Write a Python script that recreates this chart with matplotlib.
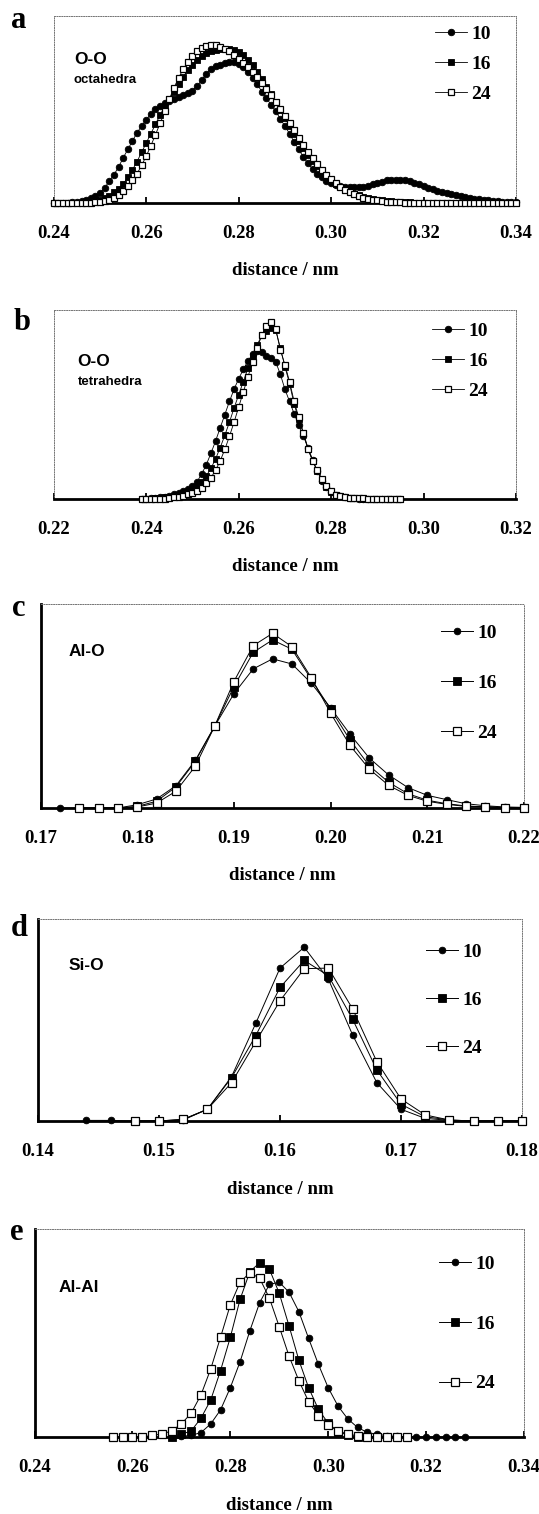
import numpy as np
import matplotlib
matplotlib.use("Agg")
import matplotlib.pyplot as plt
from matplotlib.font_manager import FontProperties

W, H = 539, 1514
nan = np.nan
series_labels = ["10", "16", "24"]

# ---------------- panel a : O-O octahedra ----------------
a_x = np.round(np.arange(0.240, 0.3405, 0.001), 3)
a_10 = [0, 0, 0, 0, 0.3, 0.5, 0.8, 1.5, 2.3, 3.5,
        5.0, 8.0, 11.5, 15.0, 19.0, 24.0, 28.5, 33.0, 37.5, 41.0,
        44.5, 47.5, 50.0, 52.0, 53.5, 54.5, 55.5, 56.5, 57.5, 58.5,
        60.0, 62.5, 65.5, 69.0, 71.5, 73.0, 74.0, 75.0, 75.3, 75.4,
        74.5, 72.5, 70.0, 67.0, 63.5, 59.5, 56.0, 52.5, 49.0, 45.0,
        41.0, 37.0, 32.5, 28.5, 24.5, 21.0, 18.0, 15.5, 13.5, 11.8,
        10.5, 9.7, 9.0, 8.6, 8.4, 8.3, 8.3, 8.5, 9.0, 9.8,
        10.6, 11.3, 11.9, 12.2, 12.3, 12.2, 11.9, 11.4, 10.7, 9.9,
        9.0, 8.1, 7.2, 6.4, 5.7, 5.0, 4.4, 3.9, 3.4, 2.9,
        2.5, 2.1, 1.8, 1.5, 1.2, 1.0, 0.8, 0.6, 0.4, 0.3, 0.2]
a_16 = [0, 0, 0, 0, 0, 0, 0, 0.2, 0.5, 0.9,
        1.5, 2.5, 3.8, 5.5, 7.5, 10.0, 13.5, 17.5, 22.0, 27.0,
        32.0, 37.0, 42.0, 47.0, 51.5, 55.5, 59.5, 63.5, 67.5, 71.0,
        74.0, 76.5, 78.5, 80.0, 81.0, 81.7, 82.2, 82.4, 82.3, 81.8,
        80.8, 79.0, 76.6, 73.6, 70.0, 66.2, 62.0, 58.0, 54.0, 49.5,
        45.2, 41.0, 37.0, 33.0, 29.2, 25.7, 22.5, 19.5, 16.8, 14.3,
        12.0, 10.0, 8.4, 7.0, 5.8, 4.8, 3.9, 3.2, 2.6, 2.1,
        1.7, 1.3, 1.0, 0.8, 0.6, 0.4, 0.3, 0.2, 0.1, 0.1,
        0, 0, 0, 0, 0, 0, 0, 0, 0, 0,
        0, 0, 0, 0, 0, 0, 0, 0, 0, 0, 0]
a_24 = [0, 0, 0, 0, 0, 0, 0, 0, 0, 0.3,
        0.6, 1.0, 1.6, 2.6, 4.0, 6.0, 8.8, 12.0, 15.5, 20.0,
        25.0, 30.5, 36.5, 42.5, 49.0, 55.5, 61.5, 67.0, 71.5, 75.5,
        78.5, 81.0, 82.8, 83.9, 84.4, 84.3, 83.6, 82.5, 81.0, 79.2,
        77.2, 75.0, 72.6, 70.0, 67.2, 64.2, 61.0, 57.6, 54.0, 50.3,
        46.5, 42.6, 38.7, 34.8, 31.0, 27.3, 23.8, 20.6, 17.7, 15.0,
        12.6, 10.5, 8.6, 7.0, 5.6, 4.5, 3.5, 2.7, 2.1, 1.6,
        1.2, 0.9, 0.6, 0.4, 0.3, 0.2, 0.1, 0, 0, 0,
        0, 0, 0, 0, 0, 0, 0, 0, 0, 0,
        0, 0, 0, 0, 0, 0, 0, 0, 0, 0, 0]

# ---------------- panel b : O-O tetrahedra ----------------
b_x = np.round(np.arange(0.239, 0.2955, 0.001), 3)
b_10 = [0,
        0, 0.2, 0.4, 0.7, 1.0, 1.5, 2.2, 3.0, 4.0, 5.0,
        6.5, 9.0, 13.0, 18.0, 24.0, 30.5, 37.5, 44.5, 51.5, 58.0,
        63.5, 68.5, 73.0, 76.5, 78.5, 77.5, 75.5, 74.5, 72.5, 66.0,
        58.0, 51.5, 45.0, 39.0, 33.0, 27.0, 20.5, 14.5, 9.5, 6.0,
        3.5, 2.0, 1.1, 0.6, 0.3, 0.1, 0, 0, 0, 0,
        0, 0, 0, 0, 0, 0]
b_16 = [0,
        0, 0, 0.2, 0.4, 0.6, 0.9, 1.3, 1.8, 2.5, 3.4,
        4.6, 6.3, 8.8, 12.0, 16.0, 21.0, 27.0, 33.5, 40.5, 48.0,
        55.0, 62.0, 69.0, 75.5, 81.5, 86.5, 89.0, 90.5, 89.5, 80.0,
        70.0, 61.0, 50.0, 42.0, 34.5, 26.0, 20.0, 14.5, 10.0, 6.3,
        3.6, 2.0, 1.1, 0.6, 0.3, 0.2, 0.1, 0, 0, 0,
        0, 0, 0, 0, 0, 0]
b_24 = [0,
        0, 0, 0, 0, 0, 0.3, 0.6, 1.0, 1.5, 2.2,
        3.0, 4.2, 5.8, 8.0, 11.0, 15.0, 20.0, 26.0, 33.0, 40.5,
        48.5, 56.5, 64.5, 72.5, 80.0, 86.5, 91.5, 93.8, 90.0, 79.0,
        71.0, 62.0, 51.5, 43.0, 35.0, 26.5, 20.0, 15.0, 10.6, 6.5,
        3.8, 2.0, 1.2, 0.7, 0.4, 0.3, 0.2, 0.1, 0, 0,
        0, 0, 0, 0, 0, 0]

# ---------------- panel c : Al-O ----------------
c_x = np.round(np.arange(0.172, 0.2205, 0.002), 3)
c_10 = [0, 0, 0, 0, 1.6, 4.4, 10.9, 23.3, 40.0, 56.0, 68.2, 73.1, 70.6,
        61.2, 49.1, 36.2, 24.5, 16.2, 10.0, 6.2, 4.1, 2.1, 1.1, 0.5, 0.3]
c_16 = [nan, 0, 0, 0, 0.8, 3.3, 10.3, 22.8, 40.0, 59.5, 76.3, 82.4, 77.8,
        63.1, 48.5, 33.4, 20.7, 12.6, 7.0, 3.8, 2.1, 1.0, 0.5, 0.2, 0.2]
c_24 = [nan, 0, 0, 0, 0.5, 2.4, 8.2, 20.4, 40.0, 62.0, 79.6, 85.6, 79.1,
        63.9, 46.5, 30.7, 19.1, 11.1, 6.2, 3.3, 1.8, 0.8, 0.7, 0.2, 0.2]

# ---------------- panel d : Si-O ----------------
d_x = np.round(np.arange(0.144, 0.1805, 0.002), 3)
d_10 = [0.3, 0.3, 0, 0, 0.5, 5.8, 22.0, 48.4, 75.7, 86.0, 70.2, 42.6,
        19.0, 5.8, 1.3, 0.3, 0, 0, 0]
d_16 = [nan, nan, 0, 0, 0.8, 5.8, 21.5, 42.3, 66.1, 79.5, 71.9, 50.4,
        25.3, 8.3, 2.1, 0.5, 0, 0, 0]
d_24 = [nan, nan, 0, 0, 0.8, 5.8, 19.0, 39.3, 59.5, 75.4, 75.7, 55.5,
        29.4, 10.9, 3.0, 0.5, 0, 0, 0]

# ---------------- panel e : Al-Al ----------------
e_x = np.round(np.arange(0.256, 0.3285, 0.002), 3)
e_10 = [nan, nan, nan, nan, nan, nan,
        0, 0.3, 0.8, 2.1, 6.3, 13.0, 23.7, 36.2, 51.1, 64.6, 73.4, 74.4,
        69.6, 60.3, 47.4, 34.9, 23.7, 14.9, 8.7, 4.6, 2.2, 1.3, 0.6, 0.3,
        0.1, 0, 0, 0, 0, 0, 0]
e_16 = [nan, nan, nan, nan, nan, nan,
        0.2, 1.3, 2.9, 9.0, 17.8, 31.9, 47.9, 66.2, 79.5, 83.8, 80.6, 69.1,
        53.4, 37.0, 23.7, 13.3, 6.6, 2.6, 1.0, 0.2, 0, 0,
        nan, nan, nan, nan, nan, nan, nan, nan, nan]
e_24 = [0, 0, 0, 0, 0.8, 1.4, 2.9, 6.3, 11.4, 20.2, 32.7, 47.9, 63.5,
        74.4, 79.0, 76.3, 66.7, 53.0, 38.9, 27.1, 17.0, 10.3, 5.8, 2.9,
        1.4, 0.6, 0.2, 0, 0, 0, 0,
        nan, nan, nan, nan, nan, nan]

a_ticks = [0.24, 0.26, 0.28, 0.30, 0.32, 0.34]
b_ticks = [0.22, 0.24, 0.26, 0.28, 0.30, 0.32]
c_ticks = [0.17, 0.18, 0.19, 0.20, 0.21, 0.22]
d_ticks = [0.14, 0.15, 0.16, 0.17, 0.18]
e_ticks = [0.24, 0.26, 0.28, 0.30, 0.32, 0.34]

# ---------------- figure ----------------
fig = plt.figure(figsize=(W / 100, H / 100), dpi=100)
SERIF = "Liberation Serif"
SANS = "Liberation Sans"
tick_fp = FontProperties(family=SERIF, weight="bold", size=13.5)
leg_fp = FontProperties(family=SERIF, weight="bold", size=14)


def px_axes(l, t, r, b):
    return fig.add_axes([l / W, 1 - b / H, (r - l) / W, (b - t) / H])


def style(ax, ticks, solid_left):
    ax.set_xlim(ticks[0], ticks[-1])
    ax.set_ylim(0, 100)
    ax.set_xticks(ticks)
    ax.set_xticklabels([f"{t:.2f}" for t in ticks], fontproperties=tick_fp)
    ax.tick_params(axis="x", direction="in", length=4, width=1.3, pad=16)
    ax.tick_params(axis="y", left=False, labelleft=False)
    for s in ["top", "right"]:
        ax.spines[s].set_linestyle((0, (1, 1.5)))
        ax.spines[s].set_color("0.45")
        ax.spines[s].set_linewidth(0.7)
    ax.spines["bottom"].set_linewidth(2.0)
    if solid_left:
        ax.spines["left"].set_linewidth(2.0)
    else:
        ax.spines["left"].set_linestyle((0, (1, 1.5)))
        ax.spines["left"].set_color("0.45")
        ax.spines["left"].set_linewidth(0.7)
    ax.set_xlabel("distance / nm",
                  fontproperties=FontProperties(family=SERIF, weight="bold", size=13.5),
                  va="center")


def draw(ax, x, ys, ms_c, ms_s, lw):
    y10, y16, y24 = ys
    ax.plot(x, y10, "-o", color="black", lw=lw, ms=ms_c, mfc="black", mec="black",
            mew=0.6, label=series_labels[0], clip_on=False, zorder=3)
    ax.plot(x, y16, "-s", color="black", lw=lw, ms=ms_s, mfc="black", mec="black",
            mew=0.6, label=series_labels[1], clip_on=False, zorder=4)
    ax.plot(x, y24, "-s", color="black", lw=lw, ms=ms_s, mfc="white", mec="black",
            mew=0.9, label=series_labels[2], clip_on=False, zorder=5)


def legend(ax, x0, ymid, spacing):
    ax.legend(loc="center left", bbox_to_anchor=(x0 / W, 1 - ymid / H),
              bbox_transform=fig.transFigure, frameon=False, prop=leg_fp,
              handlelength=1.65, handletextpad=0.2, labelspacing=spacing,
              borderpad=0, borderaxespad=0, numpoints=1)


panels = [
    (53.8, 16, 516, 202.7, a_x, (a_10, a_16, a_24), a_ticks, False, 4.7, 4.6, 0.6, 435, 64, 0.64),
    (53.8, 310, 516, 498.5, b_x, (b_10, b_16, b_24), b_ticks, False, 4.7, 4.6, 0.6, 432, 361, 0.64),
    (40.5, 604, 524, 808, c_x, (c_10, c_16, c_24), c_ticks, True, 4.8, 5.2, 0.7, 441, 683, 1.66),
    (38.0, 919, 522, 1121, d_x, (d_10, d_16, d_24), d_ticks, True, 4.8, 5.2, 0.7, 426, 1000, 1.57),
    (34.5, 1229, 524, 1437, e_x, (e_10, e_16, e_24), e_ticks, True, 4.8, 5.2, 0.7, 439, 1324, 2.16),
]

for (l, t, r, b, x, ys, ticks, solid, msc, mss, lw, lx, ly, lsp) in panels:
    ax = px_axes(l, t, r, b)
    draw(ax, x, ys, msc, mss, lw)
    style(ax, ticks, solid)
    ax.xaxis.set_label_coords(0.5, -68 / (b - t))
    legend(ax, lx, ly, lsp)

# panel letters
letter_fp = FontProperties(family=SERIF, weight="bold", size=22)
for ch, xp, yp in [("a", 19, 20), ("b", 22, 323), ("c", 19, 608), ("d", 19, 928), ("e", 17, 1233)]:
    fig.text(xp / W, 1 - yp / H, ch, fontproperties=letter_fp, ha="center", va="center")

# inner labels
big_fp = FontProperties(family=SANS, weight="bold", size=12.5)
small_fp = FontProperties(family=SANS, weight="bold", size=9.5)
for txt, xp, yp, fp in [("O-O", 74, 59, big_fp), ("octahedra", 74, 80, small_fp),
                        ("O-O", 77, 362, big_fp), ("tetrahedra", 78, 382, small_fp),
                        ("Al-O", 69, 652, big_fp), ("Si-O", 69, 965, big_fp),
                        ("Al-Al", 59, 1287, big_fp)]:
    fig.text(xp / W, 1 - yp / H, txt, fontproperties=fp, ha="left", va="center")

fig.savefig("out.png", dpi=100)
